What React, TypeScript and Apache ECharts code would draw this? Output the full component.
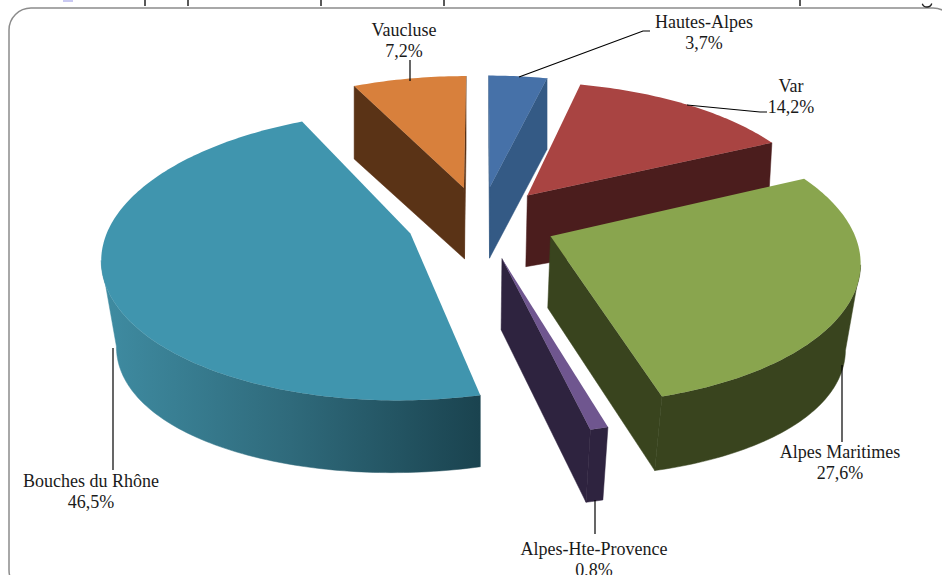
import React, { useEffect, useRef } from "react";
import * as echarts from "echarts";

const categories = ["Hautes-Alpes", "Var", "Alpes Maritimes", "Alpes-Hte-Provence", "Bouches du Rhône", "Vaucluse"];
const shares = [3.7, 14.2, 27.6, 0.8, 46.5, 7.2];
const pullOut = [79, 76, 75, 79, 74, 79];
const topColors = ["#4671a8", "#a94442", "#89a54e", "#6f568f", "#4095ae", "#d8803c"];
const wallColors = ["#345a85", "#4b1d1d", "#39441e", "#2e233f", "#2f7386", "#5a3316"];

const CX = 481, CY = 222, RADIUS = 300, TILT = 0.46, PERSPECTIVE = 2000, HEIGHT = 71, SIDE_SAG = 16;

const total = shares.reduce((a, b) => a + b, 0);
const rad = (d: number) => (d * Math.PI) / 180;

function project(x: number, z: number, depth: number) {
  const p = 1 / (1 - z / PERSPECTIVE);
  const shrink = 1 - depth * Math.min(0.04, Math.max(0, 0.012 + (p - 0.9) * 0.3));
  const lateral = Math.min(1, Math.abs(x) / 380);
  const drop = HEIGHT * Math.pow(p, 0.05) + SIDE_SAG * lateral * lateral;
  return [CX + x * p * shrink, CY + z * TILT * p + depth * drop];
}

function sliceGeometry(index: number) {
  let before = 0;
  for (let i = 0; i < index; i++) before += shares[i];
  const a0 = (before / total) * 360;
  const a1 = ((before + shares[index]) / total) * 360;
  const mid = rad((a0 + a1) / 2);
  const ox = Math.sin(mid) * pullOut[index];
  const oz = -Math.cos(mid) * pullOut[index];
  const angles: number[] = [];
  const steps = Math.max(2, Math.ceil(a1 - a0));
  for (let s = 0; s <= steps; s++) angles.push(a0 + ((a1 - a0) * s) / steps);
  const world = angles.map((a) => [ox + Math.sin(rad(a)) * RADIUS, oz - Math.cos(rad(a)) * RADIUS]);
  return { apex: [ox, oz], world };
}

const drawOrder = categories
  .map((_, i) => i)
  .sort((a, b) => sliceGeometry(a).apex[1] - sliceGeometry(b).apex[1]);

const bodyGradient = () =>
  new echarts.graphic.LinearGradient(0, 0, 1, 0, [
    { offset: 0, color: "#3f8ca2" },
    { offset: 0.5, color: "#2f6a7b" },
    { offset: 1, color: "#1a434f" },
  ]);

function renderSlice(params: any) {
  const index = drawOrder[params.dataIndex];
  const { apex, world } = sliceGeometry(index);
  const topFill = topColors[index];
  const wallFill = index === 4 ? bodyGradient() : wallColors[index];
  const children: any[] = [];
  const wall = (pts: number[][]) =>
    children.push({
      type: "polygon",
      shape: {
        points: [
          ...pts.map((q) => project(q[0], q[1], 0)),
          ...pts.slice().reverse().map((q) => project(q[0], q[1], 1)),
        ],
      },
      style: { fill: wallFill, stroke: wallFill, lineWidth: 0.5 },
    });
  const sx = (q: number[]) => project(q[0], q[1], 0)[0];
  if (sx(world[0]) < sx(apex) - 1) wall([apex, world[0]]);
  if (sx(apex) < sx(world[world.length - 1]) - 1) wall([world[world.length - 1], apex]);
  let run: number[][] = [];
  for (let i = 0; i < world.length - 1; i++) {
    if (sx(world[i + 1]) < sx(world[i])) {
      if (!run.length) run.push(world[i]);
      run.push(world[i + 1]);
    }
  }
  if (run.length) wall(run);
  children.push({
    type: "polygon",
    shape: { points: [apex, ...world].map((q) => project(q[0], q[1], 0)) },
    style: { fill: topFill },
  });
  return { type: "group", children };
}

const labelLayout: Record<string, { x: number; y: number; line: number[][] }> = {
  "Hautes-Alpes": { x: 704, y: 32, line: [[519, 77], [643, 31], [650, 31]] },
  Var: { x: 791, y: 96, line: [[687, 105], [760, 112], [767, 112]] },
  "Alpes Maritimes": { x: 840, y: 462, line: [[842, 365], [842, 442]] },
  "Alpes-Hte-Provence": { x: 594, y: 559, line: [[595, 500], [595, 534]] },
  "Bouches du Rhône": { x: 91, y: 491, line: [[113, 348], [113, 470]] },
  Vaucluse: { x: 404, y: 40, line: [[410, 60], [410, 81]] },
};

const titleStubs = [145, 188, 321, 444, 800];

function App() {
  const ref = useRef<HTMLDivElement>(null);
  useEffect(() => {
    const chart = echarts.init(ref.current!, undefined, { renderer: "svg" });
    const graphics: any[] = [
      {
        type: "rect",
        z: 1,
        shape: { x: 9, y: 8, width: 946, height: 584, r: 22 },
        style: { fill: "#ffffff", stroke: "#8c8c8c", lineWidth: 1.5 },
      },
      { type: "rect", z: 2, shape: { x: 63, y: 0, width: 10, height: 2 }, style: { fill: "#c9c9f2" } },
      { type: "arc", z: 2, shape: { cx: 927, cy: 2, r: 5, startAngle: 0.3, endAngle: 2.8 }, style: { stroke: "#222", fill: "none", lineWidth: 1.3 } },
      ...titleStubs.map((x) => ({
        type: "line",
        z: 2,
        shape: { x1: x, y1: 0, x2: x, y2: 6 },
        style: { stroke: "#222", lineWidth: 1.5 },
      })),
    ];
    categories.forEach((name, i) => {
      const l = labelLayout[name];
      graphics.push({
        type: "polyline",
        z: 10,
        shape: { points: l.line },
        style: { stroke: "#000000", lineWidth: 1.2, fill: "none" },
      });
      graphics.push({
        type: "text",
        z: 10,
        x: l.x,
        y: l.y,
        style: {
          text: `${name}\n${shares[i].toFixed(1).replace(".", ",")}%`,
          font: "18px 'Liberation Serif'",
          lineHeight: 21,
          fill: "#1a1a1a",
          align: "center",
          verticalAlign: "middle",
        },
      });
    });
    chart.setOption({
      animation: false,
      graphic: { elements: graphics },
      series: [
        {
          type: "custom",
          coordinateSystem: "none",
          z: 5,
          silent: true,
          renderItem: renderSlice,
          data: drawOrder.map((i) => shares[i]),
        },
      ],
    });
    return () => chart.dispose();
  }, []);
  return <div ref={ref} style={{ position: "absolute", left: 0, top: 0, width: 942, height: 575, background: "#fff" }} />;
}

export default App;
